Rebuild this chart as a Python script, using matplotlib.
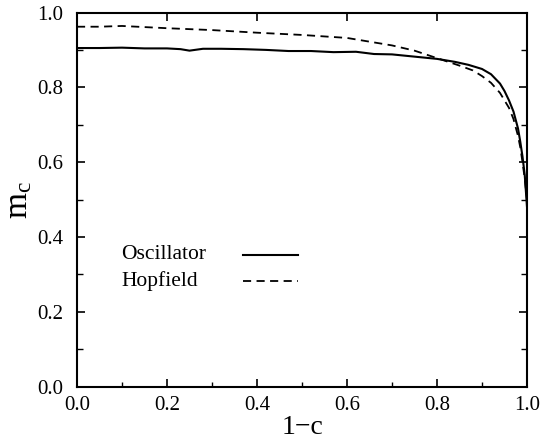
import matplotlib
matplotlib.use("Agg")
import matplotlib.pyplot as plt
from matplotlib.ticker import MultipleLocator

plt.rcParams['font.family'] = ['Liberation Serif', 'DejaVu Serif']
plt.rcParams['mathtext.fontset'] = 'stix'

osc_x = [0.0, 0.05, 0.1, 0.15, 0.2, 0.23, 0.25, 0.28, 0.32, 0.37, 0.42, 0.47, 0.52, 0.57,
         0.62, 0.66, 0.7, 0.75, 0.8, 0.84, 0.87, 0.9, 0.92, 0.94, 0.95, 0.96, 0.97,
         0.98, 0.985, 0.99, 0.995, 1.0]
osc_y = [0.905, 0.905, 0.906, 0.904, 0.904, 0.902, 0.898, 0.903, 0.903, 0.902, 0.900, 0.897,
         0.897, 0.894, 0.895, 0.889, 0.888, 0.882, 0.876, 0.868, 0.860, 0.849, 0.835,
         0.810, 0.790, 0.765, 0.735, 0.690, 0.655, 0.615, 0.565, 0.48]

hop_x = [0.0, 0.05, 0.1, 0.15, 0.2, 0.3, 0.4, 0.5, 0.6, 0.7, 0.75, 0.8, 0.85, 0.88,
         0.9, 0.92, 0.94, 0.95, 0.96, 0.97, 0.98, 0.985, 0.99, 0.995, 1.0]
hop_y = [0.962, 0.962, 0.964, 0.961, 0.958, 0.953, 0.946, 0.940, 0.932, 0.912, 0.898, 0.878,
         0.858, 0.845, 0.830, 0.812, 0.785, 0.765, 0.745, 0.715, 0.670, 0.640, 0.600,
         0.555, 0.50]

labels = ['Oscillator', 'Hopfield']
styles = ['-', (0, (4.5, 3))]

fig = plt.figure(figsize=(5.41, 4.45), dpi=100)
ax = fig.add_axes([77/541, 1-386.5/445, 450/541, 374/445])

ax.plot(osc_x, osc_y, color='black', lw=1.5, linestyle=styles[0])
ax.plot(hop_x, hop_y, color='black', lw=1.3, linestyle=styles[1])

# legend: text on the left, sample line on the right
leg_rows_y = [0.352, 0.282]
for lab, ls, yy, lw in zip(labels, styles, leg_rows_y, [1.5, 1.3]):
    ax.text(0.098, yy, lab, transform=ax.transAxes, fontsize=15.5,
            ha='left', va='center')
    ax.plot([0.369, 0.491], [yy, yy], transform=ax.transAxes, color='black',
            lw=lw, linestyle=ls)

ax.set_xlim(0, 1)
ax.set_ylim(0, 1)
ax.xaxis.set_major_locator(MultipleLocator(0.2))
ax.xaxis.set_minor_locator(MultipleLocator(0.1))
ax.yaxis.set_major_locator(MultipleLocator(0.2))
ax.yaxis.set_minor_locator(MultipleLocator(0.1))
ax.xaxis.set_major_formatter(lambda v, p: f"{v:.1f}")
ax.yaxis.set_major_formatter(lambda v, p: f"{v:.1f}")

ax.tick_params(which='major', direction='in', length=6, width=1.2, top=True, right=True,
               labelsize=15)
ax.tick_params(axis='x', which='major', pad=7)
ax.tick_params(axis='y', which='major', pad=10)
ax.tick_params(which='minor', direction='in', length=3.5, width=1.0, top=False, right=True)
ax.tick_params(axis='y', which='minor', length=4)
for s in ax.spines.values():
    s.set_linewidth(1.5)

ax.set_xlabel('1\u2212c', fontsize=20, labelpad=0)
ax.set_ylabel(r'm$_\mathregular{c}$', fontsize=24, labelpad=2)

fig.savefig('out.png', dpi=100)
